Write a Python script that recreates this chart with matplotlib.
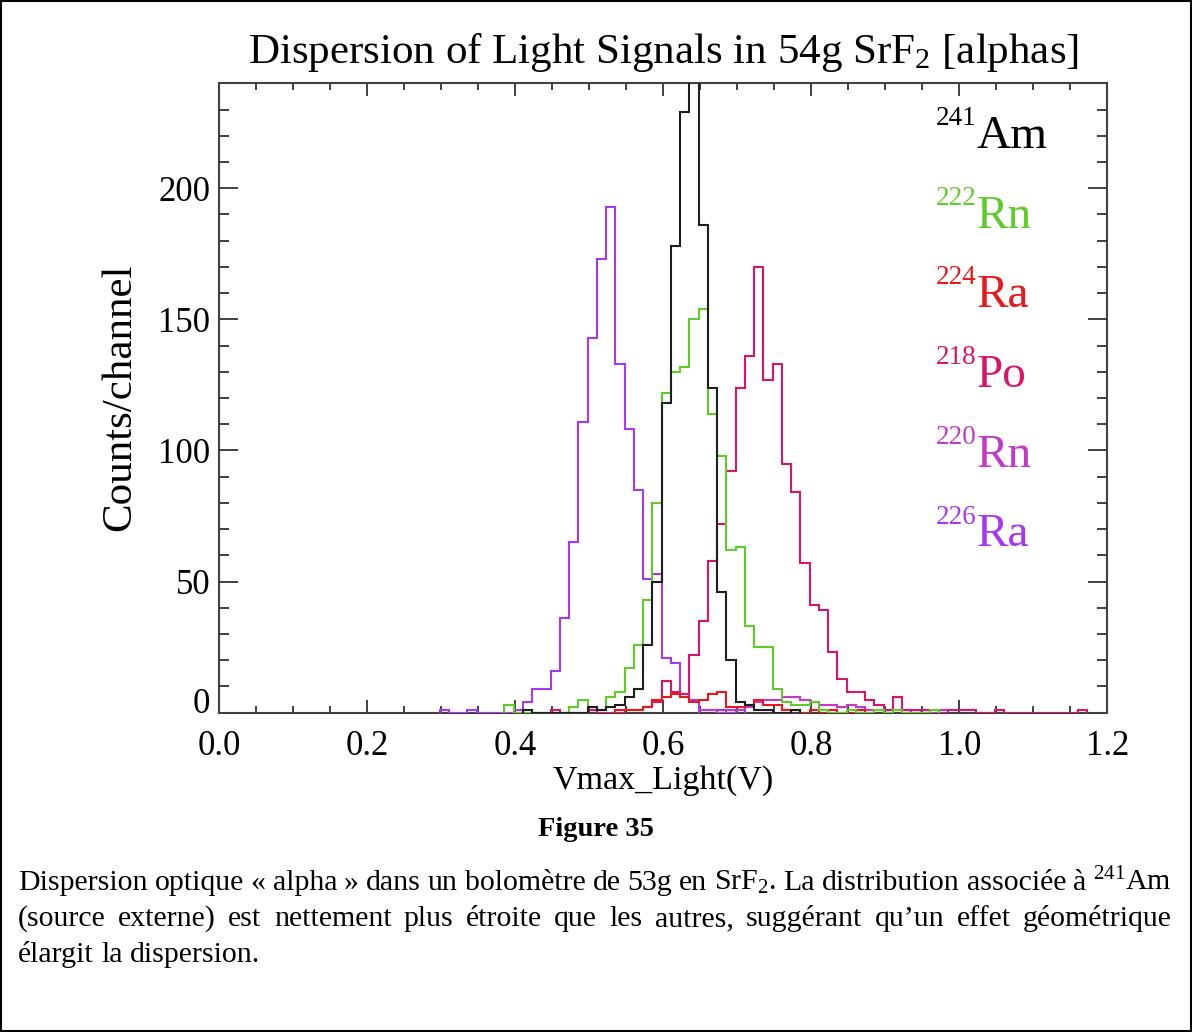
import numpy as np
import matplotlib
matplotlib.use("Agg")
from matplotlib import pyplot as plt
from matplotlib.patches import Rectangle
from matplotlib.ticker import MultipleLocator, FormatStrFormatter

plt.rcParams["font.family"] = ["Liberation Serif", "DejaVu Serif"]
plt.rcParams["mathtext.fontset"] = "custom"
plt.rcParams["mathtext.rm"] = "Liberation Serif"
plt.rcParams["mathtext.it"] = "Liberation Serif:italic"

#Histogram binning (Vmax_Light in V), counts below start at bin 24
BIN_W = 0.0125
FIRST_BIN = 24
BIN_SHIFT = -0.0023

#counts/channel, bins 24 .. 93 (10 per row)
am241 = [0, 0, 0, 0, 0, 0, 0, 0, 0, 1,
         0, 0, 0, 0, 0, 0, 2, 1, 2, 3,
         6, 9, 26, 50, 118, 178, 229, 262, 186, 124,
         46, 20, 4, 3, 1, 1, 0, 0, 1, 0,
         0, 0, 0, 0, 0, 0, 0, 0, 0, 0,
         0, 0, 0, 0, 0, 0, 0, 0, 0, 0,
         0, 0, 0, 0, 0, 0, 0, 0, 0, 0]
rn222 = [0, 0, 0, 0, 0, 0, 0, 3, 0, 0,
         0, 0, 0, 0, 2, 5, 2, 1, 6, 8,
         17, 26, 43, 80, 122, 130, 132, 150, 154, 114,
         98, 62, 63, 33, 25, 25, 9, 4, 3, 3,
         4, 1, 0, 0, 1, 0, 0, 1, 0, 1,
         0, 0, 0, 1, 0, 0, 0, 0, 0, 0,
         0, 0, 0, 0, 0, 0, 0, 0, 0, 0]
ra224 = [0, 0, 0, 0, 0, 0, 0, 0, 0, 0,
         0, 0, 0, 0, 0, 0, 0, 0, 0, 1,
         1, 1, 2, 5, 6, 7, 6, 4, 5, 7,
         8, 2, 2, 3, 5, 3, 3, 1, 1, 0,
         1, 0, 1, 0, 0, 1, 0, 1, 0, 0,
         0, 0, 0, 0, 0, 0, 0, 0, 0, 0,
         0, 0, 0, 0, 0, 0, 0, 0, 0, 0]
po218 = [0, 0, 0, 0, 0, 0, 0, 0, 0, 0,
         0, 0, 1, 0, 0, 0, 1, 0, 0, 0,
         1, 1, 2, 4, 12, 8, 7, 22, 35, 58,
         72, 92, 124, 136, 170, 127, 133, 95, 84, 57,
         41, 39, 23, 13, 8, 8, 5, 3, 1, 6,
         1, 1, 1, 1, 0, 1, 1, 1, 0, 0,
         1, 0, 0, 0, 0, 0, 0, 0, 0, 1]
rn220 = [0, 0, 0, 0, 0, 0, 0, 0, 0, 0,
         0, 0, 0, 0, 0, 0, 0, 0, 0, 0,
         0, 0, 0, 0, 0, 0, 0, 0, 1, 1,
         0, 1, 1, 2, 4, 5, 5, 6, 6, 5,
         4, 3, 3, 2, 3, 2, 1, 1, 0, 1,
         1, 0, 1, 0, 1, 0, 0, 0, 0, 0,
         0, 0, 0, 0, 0, 0, 0, 0, 0, 0]
ra226 = [1, 0, 0, 1, 0, 0, 0, 0, 1, 4,
         9, 9, 16, 36, 65, 111, 143, 173, 193, 133,
         108, 85, 51, 53, 21, 19, 7, 5, 1, 1,
         1, 0, 1, 0, 0, 0, 0, 0, 0, 0,
         0, 0, 0, 0, 0, 0, 0, 0, 0, 0,
         0, 0, 0, 0, 0, 0, 0, 0, 0, 0,
         0, 0, 0, 0, 0, 0, 0, 0, 0, 0]

#legend entries, top to bottom: (mass number, element, colour)
sources = [("241", "Am", "#000000"),
           ("222", "Rn", "#5fcc2a"),
           ("224", "Ra", "#e8191c"),
           ("218", "Po", "#d9146a"),
           ("220", "Rn", "#c23ac6"),
           ("226", "Ra", "#a637f2")]
line_colors = {"Am241": "#1e1e1e"}

y_ticks = [0, 50, 100, 150, 200]
x_ticks = [0.0, 0.2, 0.4, 0.6, 0.8, 1.0, 1.2]

title = "Dispersion of Light Signals in 54g SrF$_2$ [alphas]"
caption = ["Dispersion optique « alpha » dans un bolomètre de 53g en SrF$_2$. La distribution associée à $^{241}$Am",
           "(source externe) est nettement plus étroite que les autres, suggérant qu’un effet géométrique",
           "élargit la dispersion."]

W, H = 1192, 1032
AX_GRAY = "#404040"


def draw_hist(ax, counts, color, z):
    counts = np.asarray(counts)
    nz = np.nonzero(counts)[0]
    lo, hi = nz[0], nz[-1] + 1
    edges = BIN_SHIFT + BIN_W * (FIRST_BIN + np.arange(lo, hi + 1))
    ax.stairs(counts[lo:hi], edges, color=color, lw=1.5, zorder=z, baseline=0)


def justify(fig, renderer, line, y_px, x0_px, x1_px, fs, last=False):
    words = line.split(" ")
    texts = [fig.text(0, 1 - y_px / H, w, fontsize=fs, va="baseline") for w in words]
    widths = [t.get_window_extent(renderer).width for t in texts]
    space = fs * 100 / 72 * 0.25
    if last or len(words) < 2:
        gap = space
    else:
        gap = (x1_px - x0_px - sum(widths)) / (len(words) - 1)
    x = x0_px
    for t, w in zip(texts, widths):
        t.set_x(x / W)
        x += w + gap


fig = plt.figure(figsize=(W / 100, H / 100), dpi=100)
ax = fig.add_axes([219.3 / W, 1 - 712.7 / H, 888 / W, 629.4 / H])

draw_hist(ax, ra226, sources[5][2], 3)
draw_hist(ax, rn220, sources[4][2], 3.1)
draw_hist(ax, po218, sources[3][2], 3.2)
draw_hist(ax, ra224, sources[2][2], 3.3)
draw_hist(ax, rn222, sources[1][2], 3.4)
draw_hist(ax, am241, line_colors["Am241"], 3.5)

ax.set_xlim(0, 1.2)
ax.set_ylim(0, 240)
ax.set_xticks(x_ticks)
ax.set_yticks(y_ticks)
ax.xaxis.set_minor_locator(MultipleLocator(0.05))
ax.xaxis.set_major_formatter(FormatStrFormatter("%.1f"))
ax.yaxis.set_minor_locator(MultipleLocator(10))

for s in ax.spines.values():
    s.set_color(AX_GRAY)
    s.set_linewidth(1.5)
ax.tick_params(which="both", direction="in", top=True, right=True,
               color=AX_GRAY, width=1.4, labelsize=25, labelcolor="black")
ax.tick_params(axis="x", which="major", length=9.4, pad=12.5)
ax.tick_params(axis="x", which="minor", length=5)
ax.tick_params(axis="y", which="major", length=13.7, pad=6.5)
ax.tick_params(axis="y", which="minor", length=7.2)
#the bottom y label sits on the axis line, as in the original
ax.yaxis.get_major_ticks()[0].label1.set_verticalalignment("baseline")

fig.text(663.3 / W, 1 - 63 / H, title, fontsize=31, ha="center", va="baseline")
fig.text(663.3 / W, 1 - 789 / H, "Vmax_Light(V)", fontsize=24.5, ha="center", va="baseline")
fig.text(120 / W, 1 - 397 / H, "Counts/channel", fontsize=31, rotation=90, ha="center", va="center")

renderer = fig.canvas.get_renderer()

#isotope labels inside the plot
for k, (mass, elem, color) in enumerate(sources):
    x_ax = (936 - 219.3) / 888
    y_ax = (712.7 - (148 + k * 79.7)) / 629.4
    sup = ax.annotate(mass, xy=(x_ax, y_ax), xycoords="axes fraction", xytext=(0, 16.5),
                      textcoords="offset points", fontsize=19.5, color=color, va="baseline")
    w_pt = sup.get_window_extent(renderer).width * 72 / 100
    ax.annotate(elem, xy=(x_ax, y_ax), xycoords="axes fraction", xytext=(w_pt, 0),
                textcoords="offset points", fontsize=34, color=color, va="baseline")

fig.text(0.5, 1 - 836 / H, "Figure 35", fontsize=20.5, weight="bold", ha="center", va="baseline")
for i, line in enumerate(caption):
    justify(fig, renderer, line, 890 + 36 * i, 18, 1172, 21.5, last=(i == len(caption) - 1))

fig.add_artist(Rectangle((0.001, 0.001), 0.998, 0.998, transform=fig.transFigure,
                         fill=False, edgecolor="black", lw=1.5))

plt.savefig("out.png", dpi=100)
